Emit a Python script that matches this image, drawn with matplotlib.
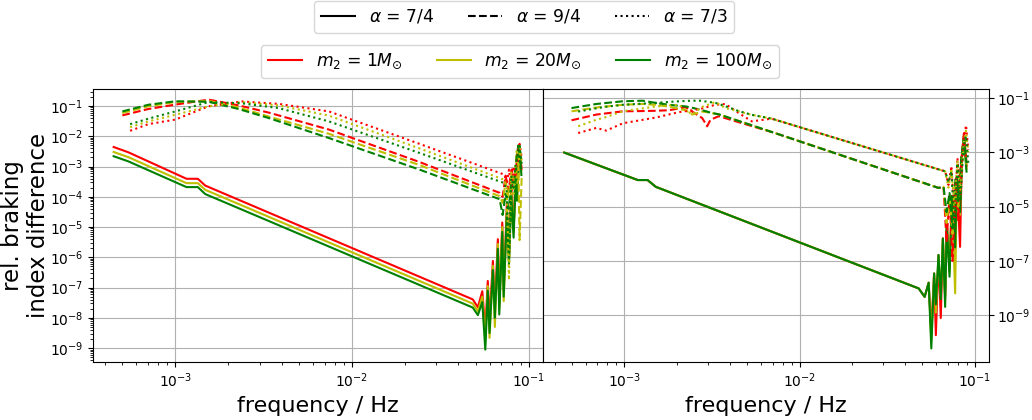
import numpy as np
import matplotlib.pyplot as plt
from matplotlib.lines import Line2D
from matplotlib.ticker import LogLocator, NullLocator, FixedLocator

# all values below are log10(frequency / Hz) and log10(rel. difference)
alpha_labels = [r'$\alpha$ = 7/4', r'$\alpha$ = 9/4', r'$\alpha$ = 7/3']
mass_labels = [r'$m_2$ = 1$M_{\odot}$', r'$m_2$ = 20$M_{\odot}$', r'$m_2$ = 100$M_{\odot}$']

# ---- left panel ----
lf_left_a1 = [-3.348, -3.265, -2.936, -2.872, -2.830, -1.317, -1.288, -1.263, -1.246,
              -1.232, -1.222, -1.203, -1.192, -1.175, -1.167, -1.150, -1.142, -1.124,
              -1.112, -1.099, -1.086, -1.074, -1.067, -1.052, -1.042]
lv_left_a1_m1 = [-2.355, -2.53, -3.405, -3.405, -3.63, -7.39, -7.65, -7.12, -8.40, -6.78,
                 -8.10, -6.12, -7.70, -5.40, -7.55, -4.85, -7.10, -4.23, -6.00, -3.68,
                 -5.10, -3.13, -3.95, -2.45, -3.00]
lv_left_a1_m20 = [-2.52, -2.69, -3.55, -3.55, -3.77, -7.53, -7.78, -7.30, -8.80, -6.95,
                  -8.66, -6.28, -8.30, -5.56, -7.70, -5.00, -7.45, -4.40, -6.10, -3.82,
                  -5.20, -3.28, -4.05, -2.40, -3.10]
lv_left_a1_m100 = [-2.66, -2.83, -3.68, -3.68, -3.91, -7.66, -7.91, -7.48, -9.05, -7.10,
                   -8.50, -6.42, -8.00, -5.72, -7.89, -5.16, -7.30, -4.56, -6.22, -3.96,
                   -5.35, -3.42, -4.13, -2.30, -3.28]

lf_left_a2 = [-3.299, -3.152, -3.0, -2.811, -2.641, -2.470, -2.130, -1.619, -1.165,
              -1.148, -1.131, -1.114, -1.097, -1.080, -1.069, -1.059, -1.052, -1.040]
lv_left_a2_m1 = [-1.31, -1.10, -0.955, -0.79, -0.98, -1.22, -1.78, -2.85, -3.87,
                 -4.00, -3.30, -3.80, -3.10, -3.50, -2.90, -2.76, -2.85, -3.10]
lv_left_a2_m20 = [-1.23, -1.01, -0.87, -0.83, -1.05, -1.35, -1.92, -2.95, -3.98,
                  -4.20, -3.50, -4.00, -3.20, -3.60, -2.50, -3.00, -5.43, -3.30]
lv_left_a2_m100 = [-1.18, -0.96, -0.845, -0.86, -1.10, -1.40, -2.06, -3.10, -4.08,
                   -4.60, -3.90, -4.40, -3.50, -3.90, -2.70, -2.30, -2.80, -3.20]

lf_left_a3 = [-3.255, -3.152, -3.0, -2.811, -2.624, -2.414, -2.130, -1.619, -1.137,
              -1.125, -1.112, -1.099, -1.086, -1.075, -1.063, -1.052, -1.040]
lv_left_a3_m1 = [-1.82, -1.60, -1.45, -1.01, -0.85, -0.93, -1.18, -2.25, -3.27,
                 -3.60, -3.10, -3.80, -3.00, -3.40, -2.50, -2.25, -2.70]
lv_left_a3_m20 = [-1.70, -1.51, -1.29, -1.01, -0.87, -0.98, -1.32, -2.40, -3.44,
                  -3.70, -6.75, -3.20, -3.90, -2.90, -3.60, -2.40, -2.80]
lv_left_a3_m100 = [-1.60, -1.42, -1.18, -0.87, -0.91, -1.07, -1.51, -2.55, -3.55,
                   -3.80, -6.00, -3.30, -3.70, -3.00, -2.60, -2.30, -2.90]

# ---- right panel ----
lf_right_a1 = [-3.343, -2.924, -2.868, -2.821, -1.321, -1.287, -1.264, -1.249, -1.233,
               -1.223, -1.208, -1.195, -1.183, -1.170, -1.161, -1.145, -1.131, -1.113,
               -1.103, -1.085, -1.075, -1.063, -1.048]
lv_right_a1_m1 = [-3.01, -4.02, -4.02, -4.27, -8.01, -8.32, -7.80, -9.60, -7.46, -9.73,
                  -6.78, -9.10, -6.17, -8.30, -5.61, -7.20, -4.60, -6.60, -3.90, -6.48,
                  -3.20, -2.30, -3.50]
lv_right_a1_m20 = [-3.01, -4.02, -4.02, -4.27, -8.01, -8.32, -7.80, -9.90, -7.46, -8.90,
                   -6.78, -8.30, -6.17, -8.40, -5.61, -7.40, -4.60, -8.19, -3.90, -5.30,
                   -3.20, -2.40, -3.60]
lv_right_a1_m100 = [-3.01, -4.02, -4.02, -4.27, -8.01, -8.32, -7.80, -10.22, -7.46, -8.60,
                    -6.78, -8.40, -6.17, -8.69, -5.61, -7.58, -4.60, -6.50, -3.90, -5.20,
                    -3.20, -2.45, -3.71]

lf_right_a2 = [-3.302, -3.160, -3.009, -2.896, -2.821, -2.745, -2.651, -2.613, -2.556,
               -2.528, -2.509, -2.462, -2.141, -1.208, -1.179, -1.162, -1.145, -1.128,
               -1.111, -1.095, -1.078, -1.063, -1.049]
lv_right_a2_m1 = [-1.82, -1.61, -1.49, -1.48, -1.47, -1.45, -1.34, -1.50, -1.74, -2.04,
                  -1.80, -1.67, -2.29, -4.31, -4.27, -6.30, -4.60, -7.00, -4.10, -5.50,
                  -3.30, -2.40, -3.30]
lv_right_a2_m20 = [-1.49, -1.35, -1.25, -1.22, -1.25, -1.32, -1.45, -1.61, -1.50, -1.52,
                   -1.55, -1.60, -2.29, -4.31, -4.27, -5.60, -4.60, -6.00, -4.10, -5.00,
                   -3.30, -2.50, -3.50]
lv_right_a2_m100 = [-1.37, -1.22, -1.12, -1.10, -1.18, -1.25, -1.31, -1.36, -1.45, -1.50,
                    -1.54, -1.60, -2.29, -4.31, -4.27, -5.20, -4.50, -5.80, -4.00, -4.80,
                    -3.20, -2.50, -3.40]

lf_right_a3 = [-3.264, -3.160, -3.104, -3.009, -2.821, -2.689, -2.613, -2.566, -2.481,
               -2.424, -2.349, -2.273, -2.160, -1.170, -1.151, -1.134, -1.117, -1.100,
               -1.083, -1.066, -1.051, -1.038]
lv_right_a3_m1 = [-2.29, -2.10, -2.20, -1.93, -1.72, -1.52, -1.45, -1.40, -1.25, -1.22,
                  -1.55, -1.86, -1.76, -3.70, -4.20, -3.50, -5.50, -3.20, -4.60, -2.60,
                  -2.00, -2.90]
lv_right_a3_m20 = [-2.04, -1.80, -1.70, -1.49, -1.31, -1.25, -1.61, -1.35, -1.15, -1.37,
                   -1.49, -1.62, -1.76, -3.70, -4.30, -3.60, -5.00, -3.30, -4.40, -2.70,
                   -2.20, -3.00]
lv_right_a3_m100 = [-1.50, -1.38, -1.32, -1.25, -1.18, -1.12, -1.10, -1.10, -1.18, -1.30,
                    -1.48, -1.62, -1.76, -3.70, -4.10, -3.70, -5.80, -3.40, -4.80, -2.80,
                    -2.40, -3.40]

colors = ['r', 'y', 'g']
styles = ['-', '--', ':']

left = [(lf_left_a1, [lv_left_a1_m1, lv_left_a1_m20, lv_left_a1_m100]),
        (lf_left_a2, [lv_left_a2_m1, lv_left_a2_m20, lv_left_a2_m100]),
        (lf_left_a3, [lv_left_a3_m1, lv_left_a3_m20, lv_left_a3_m100])]
right = [(lf_right_a1, [lv_right_a1_m1, lv_right_a1_m20, lv_right_a1_m100]),
         (lf_right_a2, [lv_right_a2_m1, lv_right_a2_m20, lv_right_a2_m100]),
         (lf_right_a3, [lv_right_a3_m1, lv_right_a3_m20, lv_right_a3_m100])]

fig = plt.figure(figsize=(10.32, 4.2), dpi=100)
ax1 = fig.add_axes([0.0901, 0.138, 0.4360, 0.650])
ax2 = fig.add_axes([0.5261, 0.138, 0.4322, 0.650])

for ax, sets in [(ax1, left), (ax2, right)]:
    for ls, (lf, curves) in zip(styles, sets):
        for c, lv in zip(colors, curves):
            ax.loglog(10**np.array(lf), 10**np.array(lv), color=c, ls=ls, lw=1.5)
    ax.set_xlim(10**-3.465, 10**-0.92)
    ax.grid(True)
    ax.set_xlabel('frequency / Hz', fontsize=16)

ax1.set_ylim(10**-9.46, 10**-0.44)
ax1.yaxis.set_major_locator(LogLocator(numticks=20))
ax1.yaxis.set_minor_locator(LogLocator(subs=np.arange(2, 10), numticks=100))
ax1.set_ylabel('rel. braking\nindex difference', fontsize=16.5, labelpad=0,
               linespacing=1.15)

ax2.set_ylim(10**-10.72, 10**-0.67)
ax2.yaxis.tick_right()
ax2.yaxis.set_major_locator(FixedLocator([1e-1, 1e-3, 1e-5, 1e-7, 1e-9]))
ax2.yaxis.set_minor_locator(NullLocator())
ax2.tick_params(axis='y', pad=2.5)

# two legends on top: line style = alpha, colour = companion mass
h_alpha = [Line2D([], [], color='k', ls=s, lw=1.5) for s in styles]
h_mass = [Line2D([], [], color=c, lw=1.5) for c in colors]
fig.legend(h_alpha, alpha_labels, loc='center', bbox_to_anchor=(0.508, 0.960),
           ncol=3, fontsize=12.3)
fig.legend(h_mass, mass_labels, loc='center', bbox_to_anchor=(0.504, 0.853),
           ncol=3, fontsize=12.3)

fig.savefig('out.png', dpi=100)
